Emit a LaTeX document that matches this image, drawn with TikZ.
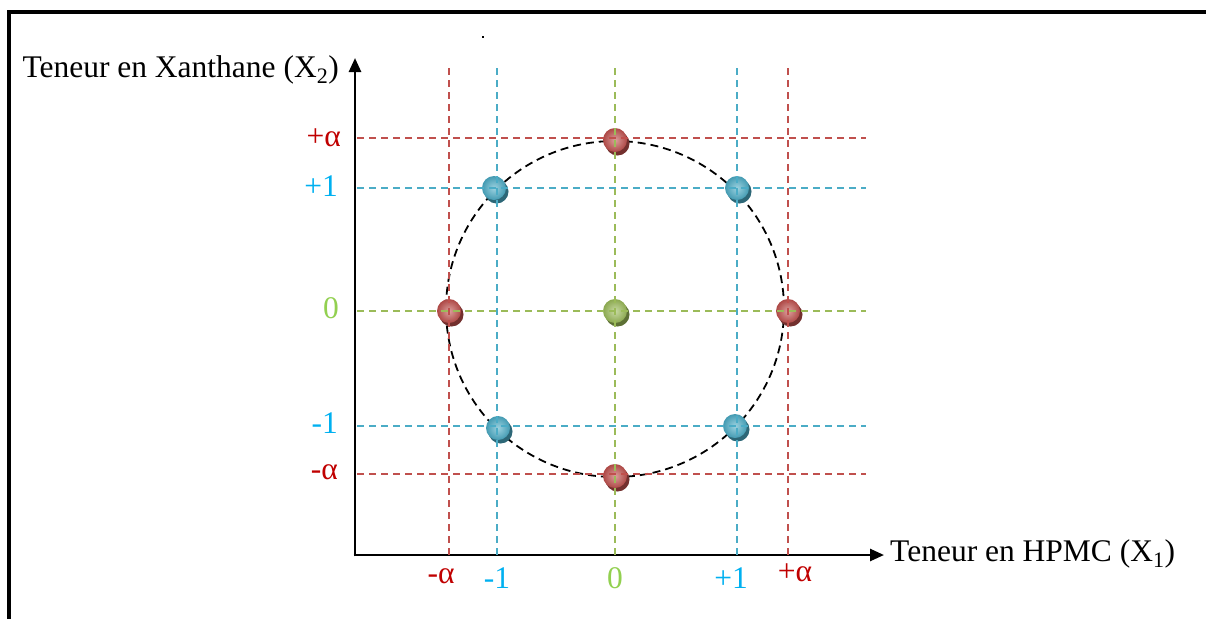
\documentclass[tikz,border=0pt]{standalone}
\usepackage{fontspec}
\setmainfont{Liberation Serif}
\usetikzlibrary{arrows.meta}
\definecolor{lred}{HTML}{C0504D}
\definecolor{lblue}{HTML}{4BACC6}
\definecolor{lgreen}{HTML}{9BBB59}
\definecolor{tred}{HTML}{C00000}
\definecolor{tblue}{HTML}{00B0F0}
\definecolor{tgreen}{HTML}{92D050}
\tikzset{
  grid/.style={dashed, dash pattern=on 7pt off 5pt, line width=1.8pt},
  axis/.style={line width=2.6pt, -{Triangle[length=14pt,width=12pt]}},
  lab/.style={font=\fontsize{31.5}{33}\selectfont, inner sep=0pt},
  ballshadow/.style={circle, minimum size=24pt, inner sep=0pt, fill=#1},
  ballnode/.style={circle, minimum size=24pt, inner sep=0pt, inner color=#1!55!white, outer color=#1!90!black},
}
\begin{document}
\begin{tikzpicture}[x=1pt,y=-1pt]
\useasboundingbox (0,0) rectangle (1206,619);
% frame
\draw[line width=4pt] (7,12) -- (1206,12);
\draw[line width=4pt] (9,10) -- (9,619);
\fill (482,36) rectangle (484,38);
% axes
\coordinate (O) at (355,555);
\coordinate (Ytip) at (355,58);
\coordinate (Xtip) at (884,555);
\draw[axis] (355,556.3) -- (Ytip);
\draw[axis] (353.7,555) -- (Xtip);
\node[lab, anchor=east] (ylab) at (339,70) {Teneur en Xanthane (X\textsubscript{2})};
\node[lab, anchor=west] (xlab) at (890,554) {Teneur en HPMC (X\textsubscript{1})};
% circle
\draw[black, line width=1.8pt, dash pattern=on 8pt off 5pt] (615,309) circle[x radius=169, y radius=-168];
% balls
\foreach \n/\x/\y/\c in {bt/615/140/lred, bl1/494/188/lblue, br1/737/188/lblue,
  ml/449/311/lred, mc/615/311/lgreen, mr/788/311/lred,
  bl2/498/428/lblue, br2/735/426/lblue, bb/615/476/lred}{
  \node[ballshadow=\c!60!black] (\n s) at (\x+2.5,\y+3.5) {};
  \node[ballnode=\c] (\n) at (\x,\y) {};
}
% vertical grid lines
\coordinate (va1) at (449,68); \coordinate (va2) at (449,555);
\coordinate (vb1) at (497,68); \coordinate (vb2) at (497,555);
\coordinate (vc1) at (615,68); \coordinate (vc2) at (615,555);
\coordinate (vd1) at (737,68); \coordinate (vd2) at (737,555);
\coordinate (ve1) at (788,68); \coordinate (ve2) at (788,555);
\draw[grid, lred] (va1) -- (va2);
\draw[grid, lblue] (vb1) -- (vb2);
\draw[grid, lgreen] (vc1) -- (vc2);
\draw[grid, lblue] (vd1) -- (vd2);
\draw[grid, lred] (ve1) -- (ve2);
% horizontal grid lines
\coordinate (ha1) at (357,138); \coordinate (ha2) at (866,138);
\coordinate (hb1) at (357,188); \coordinate (hb2) at (866,188);
\coordinate (hc1) at (357,311); \coordinate (hc2) at (866,311);
\coordinate (hd1) at (357,426); \coordinate (hd2) at (866,426);
\coordinate (he1) at (357,474); \coordinate (he2) at (866,474);
\draw[grid, lred] (ha1) -- (ha2);
\draw[grid, lblue] (hb1) -- (hb2);
\draw[grid, lgreen] (hc1) -- (hc2);
\draw[grid, lblue] (hd1) -- (hd2);
\draw[grid, lred] (he1) -- (he2);
% left labels
\node[lab, anchor=east, text=tred] (lpa) at (341,138) {+α};
\node[lab, anchor=east, text=tblue] (lp1) at (338,186) {+1};
\node[lab, anchor=east, text=tgreen] (l0) at (339,308) {0};
\node[lab, anchor=east, text=tblue] (lm1) at (338,423) {-1};
\node[lab, anchor=east, text=tred] (lma) at (338,472) {-α};
% bottom labels
\node[lab, text=tred] (bma) at (441,576) {-α};
\node[lab, text=tblue] (bm1) at (497,578) {-1};
\node[lab, text=tgreen] (b0) at (615,578) {0};
\node[lab, text=tblue] (bp1) at (731,578) {+1};
\node[lab, text=tred] (bpa) at (795,573) {+α};
\end{tikzpicture}
\end{document}
